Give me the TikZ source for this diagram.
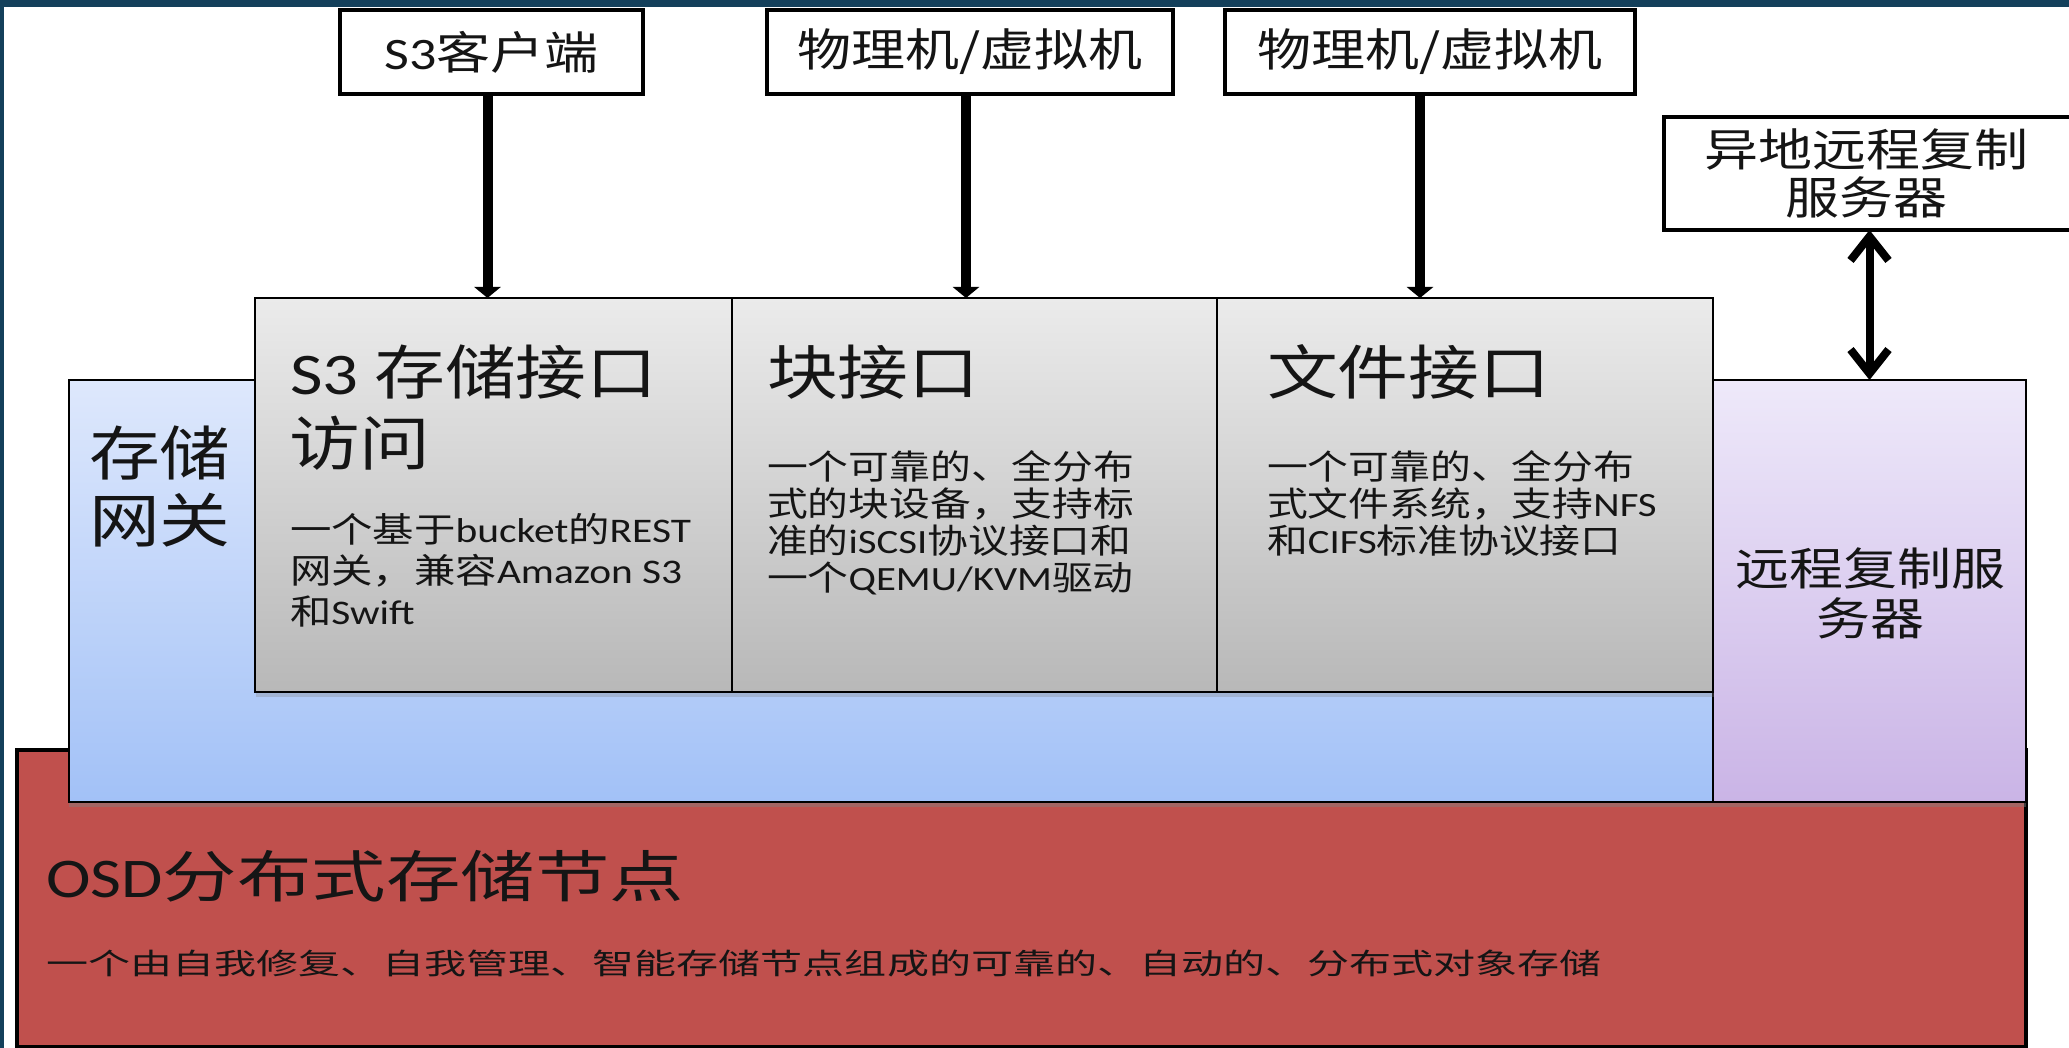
\documentclass[tikz,border=0pt]{standalone}
\usepackage{fontspec}
\usetikzlibrary{arrows.meta,shadows}
\newfontfamily\cjk[FakeStretch=1.2]{Noto Sans CJK SC}
\newfontfamily\cjko[FakeStretch=1.33]{Noto Sans CJK SC}
\newfontfamily\cjks[FakeStretch=1.45]{Noto Sans CJK SC}
\newfontfamily\latf[FakeStretch=1.2]{Carlito}
\newcommand\la[1]{{\latf #1}}
\newcommand\fTop{\cjk\fontsize{45pt}{48pt}\selectfont}
\newcommand\fHd{\cjk\fontsize{59pt}{68pt}\selectfont}
\newcommand\fBody{\cjk\fontsize{34pt}{40pt}\selectfont}
\newcommand\fBodyS{\cjk\fontsize{34.5pt}{40pt}\selectfont}
\newcommand\fOsd{\cjko\fontsize{56pt}{66pt}\selectfont}
\newcommand\fOsdSub{\cjks\fontsize{29pt}{35pt}\selectfont}
\definecolor{frameblue}{HTML}{14405B}
\definecolor{osdred}{HTML}{C0504D}
\definecolor{blueTop}{HTML}{DEE8FC}
\definecolor{blueBot}{HTML}{A2C1F7}
\definecolor{purTop}{HTML}{EEE9FA}
\definecolor{purBot}{HTML}{CAB4E6}
\definecolor{grayTop}{HTML}{EBEBEB}
\definecolor{grayBot}{HTML}{B8B8B8}
\definecolor{ink}{HTML}{151515}
\begin{document}
\begin{tikzpicture}[x=1pt,y=-1pt,
  topbox/.style={draw=black, line width=4pt, fill=white, inner sep=0pt, outer sep=0pt, font=\fTop, text=ink, align=center, minimum height=84pt},
  ifbox/.style={draw=black, line width=2pt, top color=grayTop, bottom color=grayBot, inner sep=0pt, outer sep=0pt, anchor=north west, minimum height=394pt,
     drop shadow={shadow xshift=1pt, shadow yshift=-5pt, opacity=0.3}},
  layerbox/.style={draw=black, line width=2pt, inner sep=0pt, outer sep=0pt, anchor=north west, minimum height=422pt,
     drop shadow={shadow xshift=0pt, shadow yshift=-5pt, opacity=0.45}},
  txt/.style={inner sep=0pt, outer sep=0pt, anchor=base west, text=ink},
  ctxt/.style={inner sep=0pt, outer sep=0pt, anchor=base, text=ink},
  arr/.style={line width=10pt, -{Triangle[length=11pt,width=26pt]}},
  darr/.style={line width=8pt, {Straight Barb[length=24pt,width=38pt]}-{Straight Barb[length=24pt,width=38pt]}}
]
\useasboundingbox (0,0) rectangle (2069,1048);
\fill[frameblue] (0,0) rectangle (2069,1048);
\fill[white] (4,7) rectangle (2069,1048);

% OSD layer
\node[draw=black, line width=4pt, fill=osdred, inner sep=0pt, outer sep=0pt, anchor=north west,
      minimum width=2009pt, minimum height=297pt] (osd) at (17,750) {};

% gateway and replication layers
\node[layerbox, top color=blueTop, bottom color=blueBot, minimum width=1644pt] (gw) at (69,380) {};
\node[layerbox, top color=purTop, bottom color=purBot, minimum width=313pt] (rep) at (1713,380) {};

% interface boxes
\node[ifbox, minimum width=477pt] (s3if) at (255,298) {};
\node[ifbox, minimum width=485pt] (blkif) at (732,298) {};
\node[ifbox, minimum width=496pt] (fileif) at (1217,298) {};

% top boxes
\node[topbox, minimum width=303pt] (s3c) at (491.5,52) {\la{S3}客户端};
\node[topbox, minimum width=406pt] (pm1) at (970,52) {物理机/虚拟机};
\node[topbox, minimum width=410pt] (pm2) at (1430,52) {物理机/虚拟机};
\node[topbox, minimum width=421pt, minimum height=113pt] (remote) at (1874.5,173.5)
   {异地远程复制\hspace*{16pt}\\服务器\hspace*{16pt}};

% connectors
\coordinate (a1) at ([xshift=-4pt]s3c.south);
\coordinate (a2) at ([xshift=-4pt]pm1.south);
\coordinate (a3) at ([xshift=-10pt]pm2.south);
\draw[arr] (a1) -- (a1 |- s3if.north);
\draw[arr] (a2) -- (a2 |- blkif.north);
\draw[arr] (a3) -- (a3 |- fileif.north);
\draw[darr] (remote.south -| rep.north) -- (rep.north);

% gateway text
\node[txt, font=\fHd] (gwt1) at (89,475) {存储};
\node[txt, font=\fHd] (gwt2) at (89,542) {网关};

% S3 interface text
\node[txt, font=\fHd] (s3h1) at (290,395) {\la{S3} 存储接口};
\node[txt, font=\fHd] (s3h2) at (289,465) {访问};
\node[txt, font=\fBodyS] (s3b1) at (290,542) {一个基于\la{bucket}的\la{REST}};
\node[txt, font=\fBodyS] (s3b2) at (290,583) {网关，兼容\la{Amazon S3}};
\node[txt, font=\fBodyS] (s3b3) at (290,624) {和\la{Swift}};

% block interface text
\node[txt, font=\fHd] (bh) at (767,395) {块接口};
\node[txt, font=\fBody] (bb1) at (767,479) {一个可靠的、全分布};
\node[txt, font=\fBody] (bb2) at (767,516) {式的块设备，支持标};
\node[txt, font=\fBody] (bb3) at (767,553) {准的\la{iSCSI}协议接口和};
\node[txt, font=\fBody] (bb4) at (767,590) {一个\la{QEMU/KVM}驱动};

% file interface text
\node[txt, font=\fHd] (fh) at (1267,395) {文件接口};
\node[txt, font=\fBody] (fb1) at (1267,479) {一个可靠的、全分布};
\node[txt, font=\fBody] (fb2) at (1267,516) {式文件系统，支持\la{NFS}};
\node[txt, font=\fBody] (fb3) at (1267,553) {和\la{CIFS}标准协议接口};

% replication text
\node[ctxt, font=\fTop] (rt1) at (1870,585) {远程复制服};
\node[ctxt, font=\fTop] (rt2) at (1870,635) {务器};

% OSD text
\node[txt, font=\fOsd] (ot1) at (46,897) {\la{OSD}分布式存储节点};
\node[txt, font=\fOsdSub] (ot2) at (46,974) {一个由自我修复、自我管理、智能存储节点组成的可靠的、自动的、分布式对象存储};
\end{tikzpicture}
\end{document}
